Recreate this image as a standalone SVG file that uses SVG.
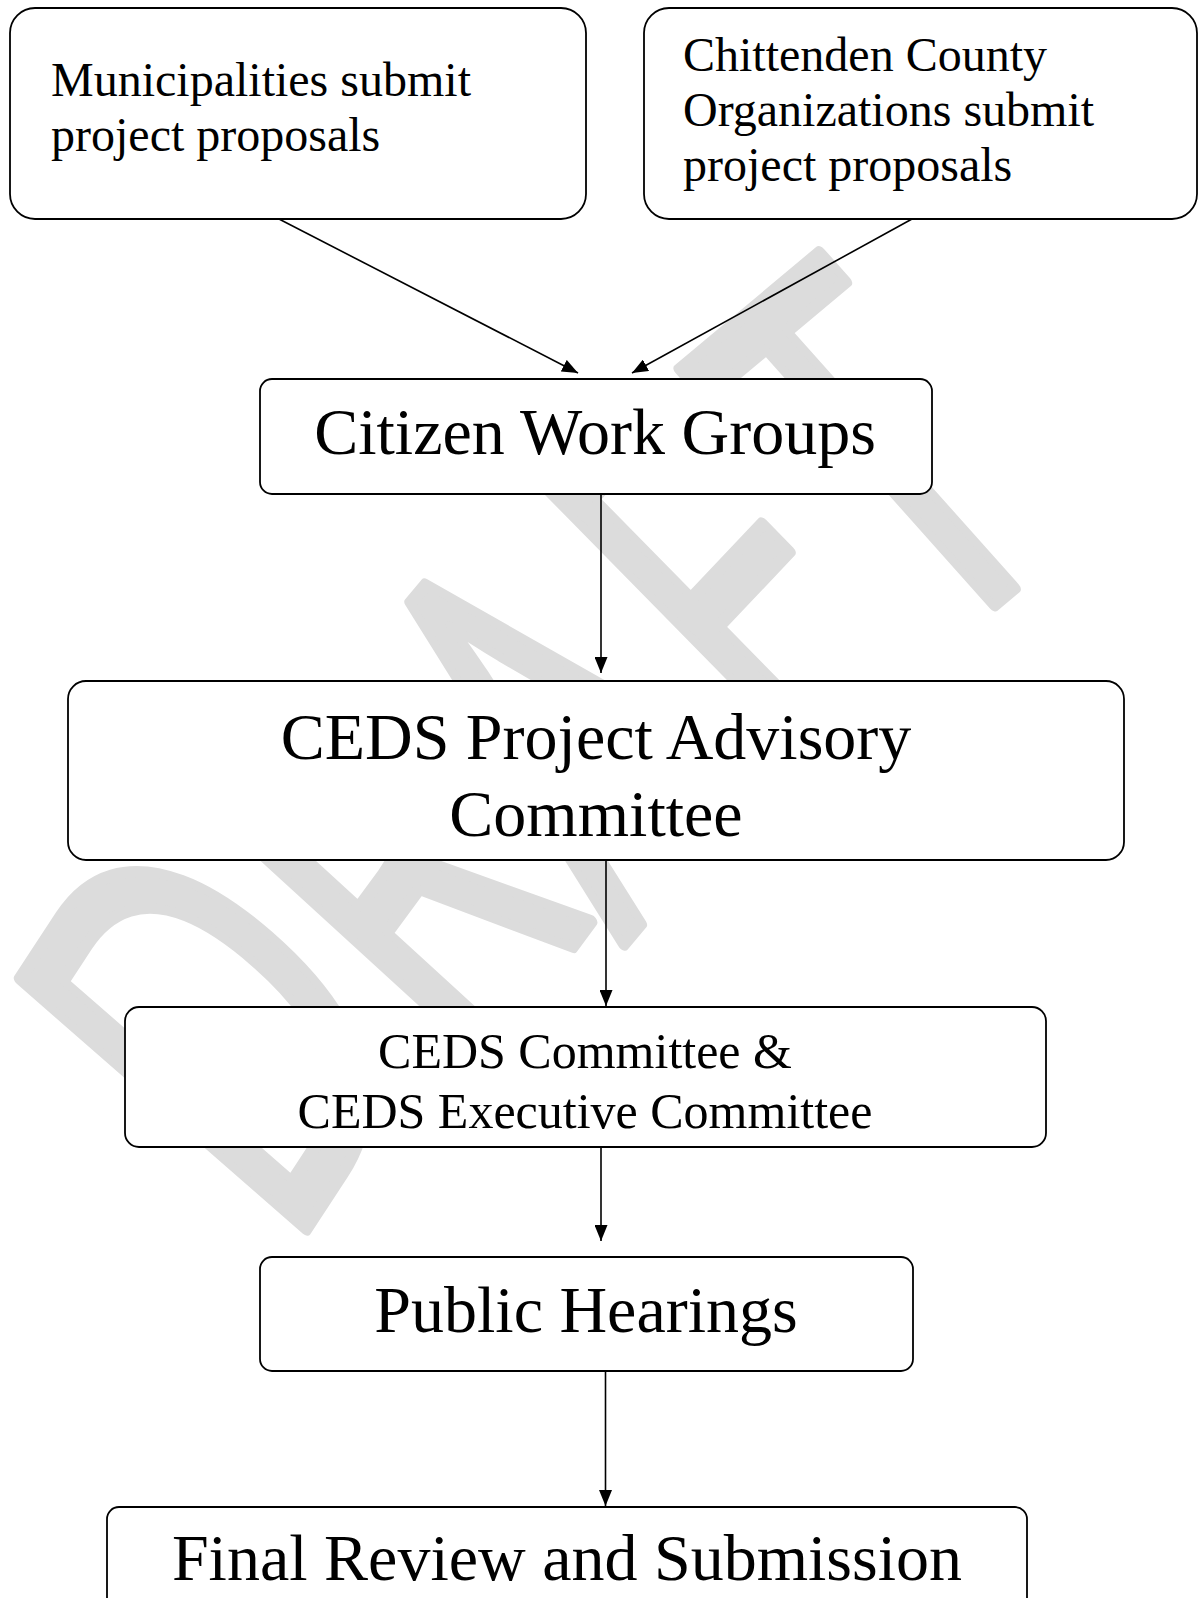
<svg xmlns="http://www.w3.org/2000/svg" width="1199" height="1598" viewBox="0 0 1199 1598">
  <defs>
    <style>
      .box { fill: #ffffff; stroke: #000000; stroke-width: 1.8; }
      .lbl { font-family: "Liberation Serif", "Times New Roman", serif; fill: #000000; }
      .big { font-size: 66px; text-anchor: middle; }
      .mid { font-size: 50px; text-anchor: middle; }
      .small { font-size: 48px; }
      .edge { stroke: #000000; stroke-width: 1.6; fill: none; marker-end: url(#arrow); }
      .wm { font-family: "Open Sans", "Liberation Sans", sans-serif; fill: #dcdcdc; stroke: #dcdcdc; stroke-width: 13; stroke-linejoin: round; }
    </style>
    <marker id="arrow" markerUnits="userSpaceOnUse" markerWidth="17" markerHeight="13" refX="16" refY="6.5" orient="auto">
      <path d="M0,0 L16,6.5 L0,13 Z" fill="#000000"/>
    </marker>
  </defs>

  <rect width="1199" height="1598" fill="#ffffff"/>

  <!-- watermark behind the flow chart: condensed, diagonal, letters fanned slightly -->
  <g id="watermark">
    <text class="wm" transform="translate(311,1236) rotate(-43) scale(0.649,1)" x="-52 329 657 1012 1306" y="0" rotate="-9 -7 -4.6 -2.3 2" font-size="536">DRAFT</text>
  </g>

  <!-- connectors -->
  <g id="connectors">
    <line class="edge" x1="279" y1="219" x2="578" y2="373"/>
    <line class="edge" x1="912" y1="219" x2="632" y2="373"/>
    <line class="edge" x1="601" y1="495" x2="601" y2="673"/>
    <line class="edge" x1="606" y1="861" x2="606" y2="1006"/>
    <line class="edge" x1="601" y1="1147" x2="601" y2="1241"/>
    <line class="edge" x1="605.5" y1="1371" x2="605.5" y2="1506"/>
  </g>

  <g id="node-municipalities">
    <rect class="box" x="10" y="8" width="576" height="211" rx="25" ry="25"/>
    <text class="lbl small" x="51" y="96">Municipalities submit</text>
    <text class="lbl small" x="51" y="151">project proposals</text>
  </g>

  <g id="node-organizations">
    <rect class="box" x="644" y="8" width="553" height="211" rx="25" ry="25"/>
    <text class="lbl small" x="683" y="71">Chittenden County</text>
    <text class="lbl small" x="683" y="126">Organizations submit</text>
    <text class="lbl small" x="683" y="181">project proposals</text>
  </g>

  <g id="node-citizen-work-groups">
    <rect class="box" x="260" y="379" width="672" height="115" rx="12" ry="12"/>
    <text class="lbl big" x="595" y="454">Citizen Work Groups</text>
  </g>

  <g id="node-advisory-committee">
    <rect class="box" x="68" y="681" width="1056" height="179" rx="18" ry="18"/>
    <text class="lbl big" x="596" y="759">CEDS Project Advisory</text>
    <text class="lbl big" x="596" y="836">Committee</text>
  </g>

  <g id="node-ceds-committees">
    <rect class="box" x="125" y="1007" width="921" height="140" rx="14" ry="14"/>
    <text class="lbl mid" x="585" y="1068">CEDS Committee &amp;</text>
    <text class="lbl mid" x="585" y="1128">CEDS Executive Committee</text>
  </g>

  <g id="node-public-hearings">
    <rect class="box" x="260" y="1257" width="653" height="114" rx="12" ry="12"/>
    <text class="lbl big" x="586" y="1332">Public Hearings</text>
  </g>

  <g id="node-final-review">
    <rect class="box" x="107" y="1507" width="920" height="130" rx="12" ry="12"/>
    <text class="lbl big" x="567" y="1580">Final Review and Submission</text>
  </g>
</svg>
